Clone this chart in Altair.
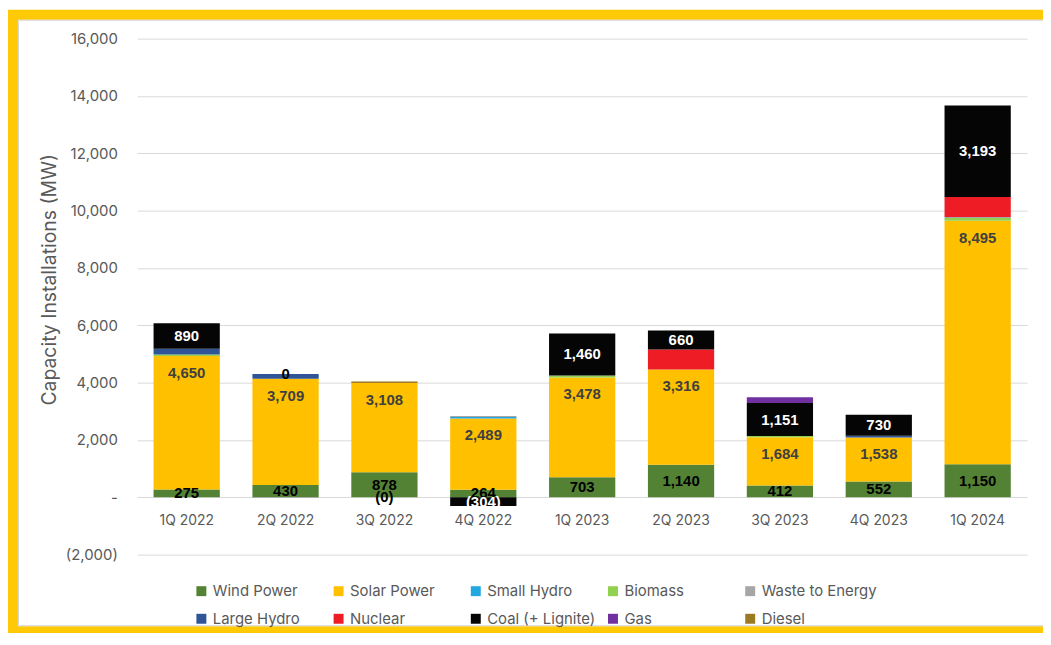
import altair as alt
import pandas as pd

quarters = ["1Q 2022", "2Q 2022", "3Q 2022", "4Q 2022", "1Q 2023",
            "2Q 2023", "3Q 2023", "4Q 2023", "1Q 2024"]
types = ["Wind Power", "Solar Power", "Small Hydro", "Biomass", "Waste to Energy",
         "Large Hydro", "Nuclear", "Coal (+ Lignite)", "Gas", "Diesel"]
colors = ["#548235", "#FFC000", "#22A7E0", "#92D050", "#A6A6A6",
          "#2F5597", "#EE1C25", "#050505", "#7030A0", "#9C7A22"]

wind = [275, 430, 878, 264, 703, 1140, 412, 552, 1150]
solar = [4650, 3709, 3108, 2489, 3478, 3316, 1684, 1538, 8495]
small_hydro = [0, 0, 0, 50, 0, 0, 0, 0, 0]
biomass = [60, 0, 0, 0, 70, 0, 40, 0, 100]
waste = [0, -25, 0, 30, 0, 0, 0, 0, 30]
large_hydro = [200, 160, 0, 0, 0, 0, 0, 60, 0]
nuclear = [0, 0, 0, 0, 0, 700, 0, 0, 700]
coal = [890, 0, -0.3, -304, 1460, 660, 1151, 730, 3193]
gas = [0, 0, 0, 0, 0, 0, 200, 0, 0]
diesel = [0, 0, 50, 0, 0, 0, 0, 0, 0]

y_ticks = [-2000, 0, 2000, 4000, 6000, 8000, 10000, 12000, 14000, 16000]
mid_labelled = ["Wind Power", "Coal (+ Lignite)"]

series = [wind, solar, small_hydro, biomass, waste, large_hydro, nuclear, coal, gas, diesel]
rows = []
for ti, t in enumerate(types):
    for qi, q in enumerate(quarters):
        rows.append({"quarter": q, "type": t, "idx": ti, "value": series[ti][qi]})
df = pd.DataFrame(rows)

# legend is laid out column by column: interleave the two legend rows
legend_order = [types[i] for pair in zip(range(0, 5), range(5, 10)) for i in pair]
legend_colors = [colors[types.index(t)] for t in legend_order]

FONT = "Inter"
GREY = "#595959"
LABEL_EXPR = "datum.value < 0 ? '(' + format(-datum.value, ',.0f') + ')' : format(datum.value, ',.0f')"

base = alt.Chart(df).transform_stack(
    stack="value", as_=["y0", "y1"], groupby=["quarter"],
    sort=[alt.SortField("idx", order="ascending")]
)

x_enc = alt.X(
    "quarter:N", sort=quarters,
    scale=alt.Scale(paddingInner=0.33, paddingOuter=0.165),
    axis=alt.Axis(title=None, labelAngle=0, offset=-58, labelPadding=17, ticks=False,
                  domain=False, grid=False, labelFont=FONT, labelFontSize=14,
                  labelColor=GREY),
)

bars = base.mark_bar().encode(
    x=x_enc,
    y=alt.Y(
        "y0:Q",
        scale=alt.Scale(domain=[-2000, 16000], nice=False),
        axis=alt.Axis(
            values=y_ticks,
            labelExpr="datum.value == 0 ? '-' : (datum.value < 0 ? '(' + format(-datum.value, ',') + ')' : format(datum.value, ','))",
            title="Capacity Installations (MW)", titleFont=FONT, titleFontSize=19.5,
            titleFontWeight="normal", titleColor=GREY, titleAngle=-90,
            titleX=-88, titleY=242, titleAlign="center", titleBaseline="middle",
            labelFont=FONT, labelFontSize=15, labelColor=GREY, labelPadding=20,
            ticks=False, domain=False, grid=True, gridColor="#D9D9D9", gridWidth=1,
        ),
    ),
    y2="y1:Q",
    color=alt.Color(
        "type:N",
        scale=alt.Scale(domain=legend_order, range=legend_colors),
        legend=alt.Legend(
            title=None, orient="none", legendX=57, legendY=548, columns=5,
            gridAlign="all", columnPadding=3, rowPadding=12, symbolType="square",
            symbolSize=100, symbolStrokeWidth=0, labelFont=FONT, labelFontSize=15,
            labelColor=GREY, labelOffset=4, padding=0,
        ),
    ),
)

mid_labels = base.transform_filter(
    alt.FieldOneOfPredicate(field="type", oneOf=mid_labelled)
).transform_calculate(
    mid="(datum.y0 + datum.y1) / 2",
    lab=LABEL_EXPR,
    lc="(datum.type == 'Coal (+ Lignite)' && abs(datum.value) >= 100) ? '#ffffff' : '#000000'",
).mark_text(font="Liberation Sans", fontWeight="bold", fontSize=15, baseline="middle",
            align="center").encode(
    x=alt.X("quarter:N", sort=quarters),
    y=alt.Y("mid:Q"),
    text="lab:N",
    color=alt.Color("lc:N", scale=None, legend=None),
)

solar_labels = base.transform_filter(
    alt.datum.type == "Solar Power"
).transform_calculate(
    lab=LABEL_EXPR,
).mark_text(font="Liberation Sans", fontWeight="bold", fontSize=15, baseline="middle",
            align="center", dy=17, color="#404040").encode(
    x=alt.X("quarter:N", sort=quarters),
    y=alt.Y("y1:Q"),
    text="lab:N",
)

frame_df = pd.DataFrame({"k": [0]})
frame = alt.Chart(frame_df).mark_rect(fillOpacity=0, stroke="#FFCA05", strokeWidth=10).encode(
    x=alt.value(-125), x2=alt.value(925), y=alt.value(-24), y2=alt.value(596)
)
inner = alt.Chart(frame_df).mark_rect(fillOpacity=0, stroke="#D4D4D4", strokeWidth=1).encode(
    x=alt.value(-119.5), x2=alt.value(925), y=alt.value(-18.5), y2=alt.value(590.5)
)

chart = alt.layer(bars, mid_labels, solar_labels, frame, inner).resolve_scale(
    color="independent"
).properties(
    width=895, height=519,
    autosize=alt.AutoSizeParams(type="none"),
    padding={"left": 130, "top": 29, "right": 16, "bottom": 77},
    background="white",
).configure_view(stroke=None)

chart.save("out.html", embed_options={"renderer": "svg", "actions": False})
